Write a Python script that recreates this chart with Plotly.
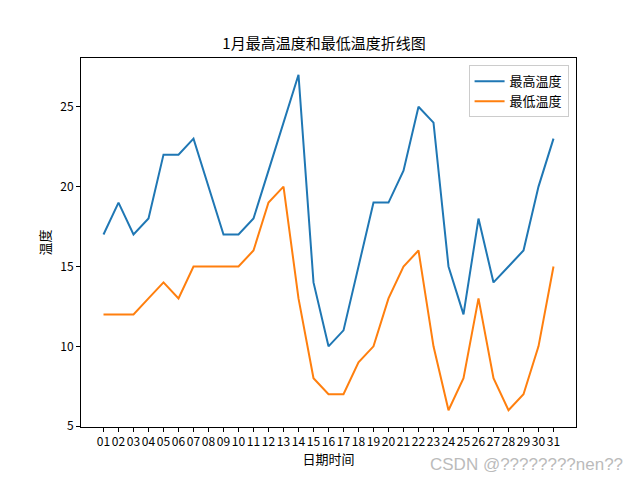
import plotly.graph_objects as go

days = [f"{i:02d}" for i in range(1, 32)]
high = [17, 19, 17, 18, 22, 22, 23, 20, 17, 17, 18, 21, 24, 27, 14, 10, 11, 15, 19, 19, 21, 25, 24, 15, 12, 18, 14, 15, 16, 20, 23]
low = [12, 12, 12, 13, 14, 13, 15, 15, 15, 15, 16, 19, 20, 13, 8, 7, 7, 9, 10, 13, 15, 16, 10, 6, 8, 13, 8, 6, 7, 10, 15]

FONT = "Noto Sans CJK SC"
x = list(range(len(days)))

# page body has an 8px default margin; compensate so the plot lands where the reference has it
W, H, OFF = 632, 472, 8
L, R, T, B = 81 - OFF, 640 - 576, 58 - OFF, 480 - 427
PW, PH = W - L - R, H - T - B

fig = go.Figure()
fig.add_trace(go.Scatter(x=x, y=high, mode="lines", name="最高温度",
                         line=dict(color="#1f77b4", width=2)))
fig.add_trace(go.Scatter(x=x, y=low, mode="lines", name="最低温度",
                         line=dict(color="#ff7f0e", width=2)))

ymin, ymax = min(low), max(high)
pad = (ymax - ymin) * 0.05
fig.update_layout(
    width=W, height=H,
    paper_bgcolor="white", plot_bgcolor="white",
    margin=dict(l=L, r=R, t=T, b=B, autoexpand=False),
    font=dict(family=FONT, size=12, color="black"),
    title=dict(text="1月最高温度和最低温度折线图", x=0.5, xanchor="center",
               y=1 - (44 - OFF) / H, yanchor="middle", font=dict(size=15)),
    showlegend=True,
    legend=dict(x=0.985, y=0.98, xanchor="right", yanchor="top",
                bordercolor="#cccccc", borderwidth=1, bgcolor="rgba(255,255,255,0.8)",
                font=dict(size=13)),
    xaxis=dict(tickmode="array", tickvals=x, ticktext=days,
               range=[-1.5, len(days) - 1 + 1.5], automargin=False,
               showgrid=False, zeroline=False, showline=True, linecolor="black",
               linewidth=1, mirror=True, ticks="outside", ticklen=4,
               tickcolor="black", tickangle=0, tickfont=dict(size=12),
               title=dict(text="日期时间", font=dict(size=13), standoff=4)),
    yaxis=dict(range=[ymin - pad, ymax + pad], tickvals=[5, 10, 15, 20, 25],
               automargin=False,
               showgrid=False, zeroline=False, showline=True, linecolor="black",
               linewidth=1, mirror=True, ticks="outside", ticklen=4,
               tickcolor="black", tickfont=dict(size=12),
               title=dict(text="温度", font=dict(size=13), standoff=6)),
)
fig.add_annotation(text="CSDN @????????nen??", xref="paper", yref="paper",
                   x=(625 - OFF - L) / PW, y=(426 - 463) / PH, xanchor="right", yanchor="middle",
                   showarrow=False,
                   font=dict(family="Liberation Sans", size=17, color="#bbbbbb"))

fig.write_html("out.html")
